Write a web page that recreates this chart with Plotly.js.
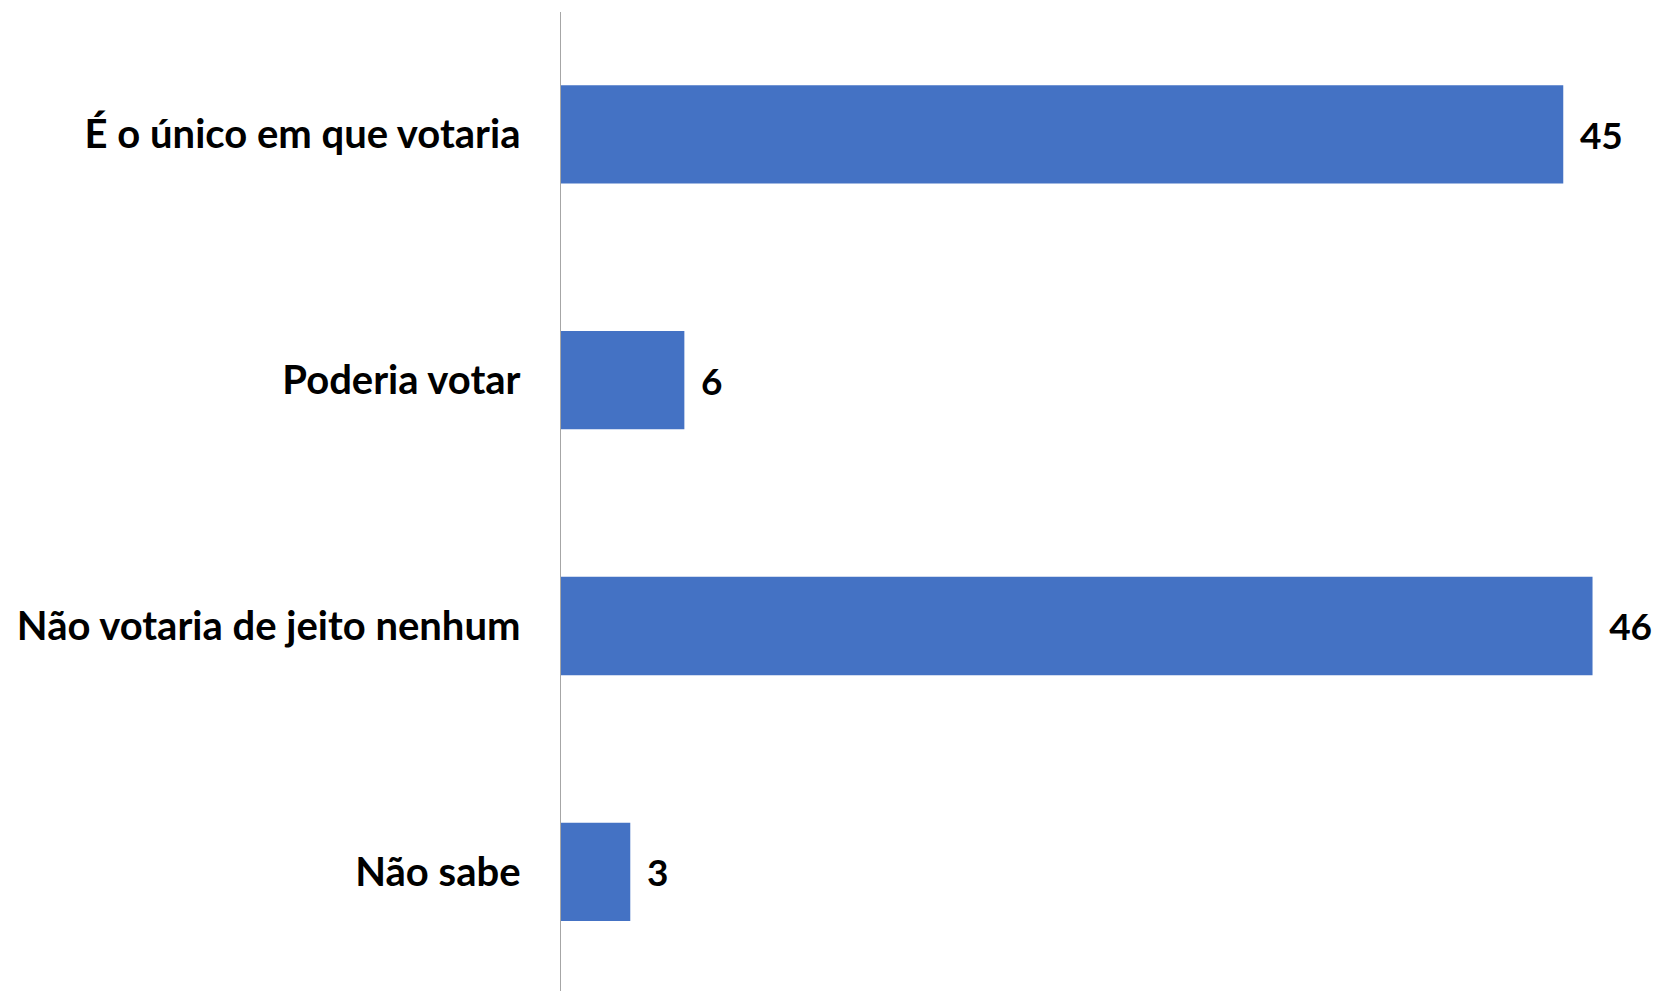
<!DOCTYPE html>
<html>
<head>
<meta charset="utf-8">
<script src="https://cdn.plot.ly/plotly-3.0.1.min.js"></script>
<style>
html,body{margin:0;padding:0;background:#fff;}
#chart{width:1656px;height:991px;}
</style>
</head>
<body>
<div id="chart"></div>
<script>
const categories = ["É o único em que votaria", "Poderia votar", "Não votaria de jeito nenhum", "Não sabe"];
const values = [44.85, 5.52, 46.16, 3.1];
const labels = ["45", "6", "46", "3"];

const trace = {
  type: "bar",
  orientation: "h",
  y: categories,
  x: values,
  text: labels,
  texttemplate: "\u00a0\u2009%{text}",
  textposition: "outside",
  cliponaxis: false,
  constraintext: "none",
  textfont: {family: "Lato, 'Open Sans', sans-serif", size: 37, color: "#000", weight: 700},
  marker: {color: "#4472C4", line: {width: 0}},
  width: 0.4,
  hoverinfo: "none"
};

const layout = {
  width: 1656,
  height: 991,
  margin: {l: 561, r: 0, t: 12, b: 0},
  paper_bgcolor: "#fff",
  plot_bgcolor: "#fff",
  showlegend: false,
  bargap: 0.6,
  xaxis: {
    range: [0, 49],
    showgrid: false,
    zeroline: false,
    showline: false,
    showticklabels: false,
    ticks: ""
  },
  yaxis: {
    type: "category",
    range: [3.485, -0.498],
    showgrid: false,
    zeroline: false,
    showline: true,
    linecolor: "#a6a6a6",
    linewidth: 1.5,
    ticks: "",
    ticklabelstandoff: 31,
    tickfont: {family: "Lato, 'Open Sans', sans-serif", size: 40, color: "#000", weight: 700}
  }
};

Plotly.newPlot("chart", [trace], layout, {displayModeBar: false, staticPlot: true});
</script>
</body>
</html>
